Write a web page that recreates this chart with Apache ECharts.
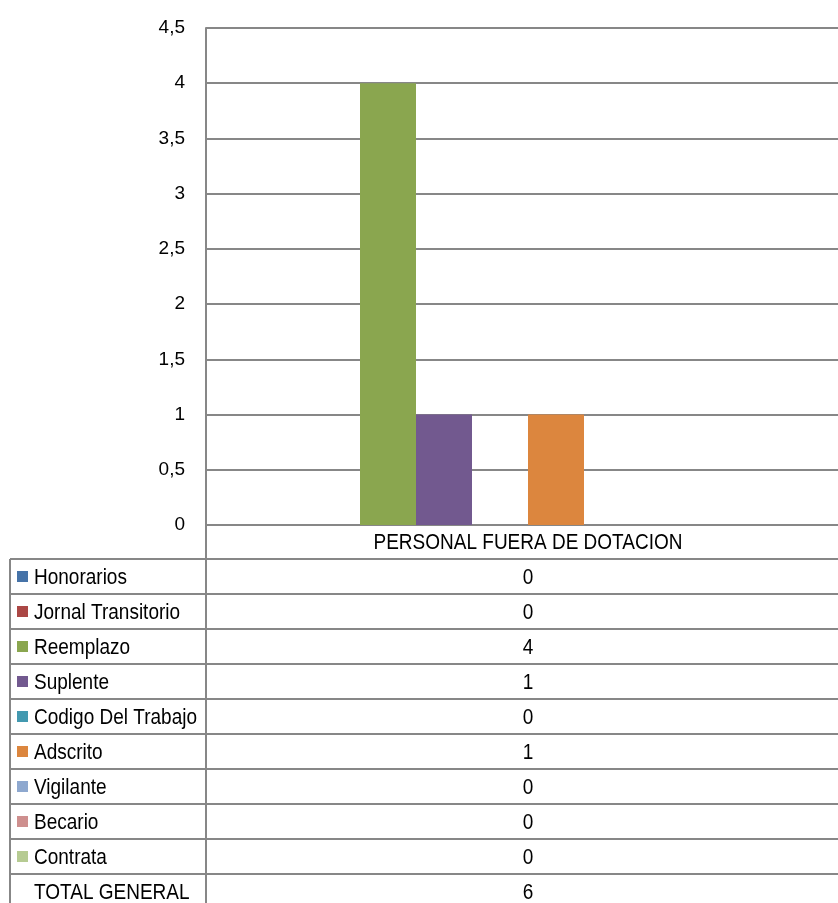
<!DOCTYPE html>
<html>
<head>
<meta charset="utf-8">
<script src="https://cdn.jsdelivr.net/npm/echarts@6/dist/echarts.min.js"></script>
<style>
  html, body { margin: 0; padding: 0; background: #fff; overflow: hidden; width: 838px; height: 903px; }
  #chart { width: 856px; height: 903px; }
</style>
</head>
<body>
<div id="chart"></div>
<script>
// ---- data ----
const categories = ['PERSONAL FUERA DE DOTACION'];
const seriesNames = ['Honorarios', 'Jornal Transitorio', 'Reemplazo', 'Suplente', 'Codigo Del Trabajo', 'Adscrito', 'Vigilante', 'Becario', 'Contrata'];
const seriesValues = [0, 0, 4, 1, 0, 1, 0, 0, 0];
const seriesColors = ['#4673A8', '#AB4745', '#8AA64F', '#72598F', '#4399B0', '#DC863E', '#8EA8CF', '#CE8F8E', '#B6CB92'];
const totalName = 'TOTAL GENERAL';
const totalValues = [6];
const yMin = 0, yMax = 4.5, yStep = 0.5;

// ---- styles / layout ----
const GRID_COLOR = '#878787';
const FONT = "'Liberation Sans', Arial, sans-serif";
const TSIZE = 19;
const TSCALE_Y = 1.12;
const gridLeft = 206, gridTop = 28, gridWidth = 644, gridHeight = 497;
const tableLeft = 10, tableTop = 559, rowH = 35, keySize = 11, labelX = 34, textDy = 1.5;

const chart = echarts.init(document.getElementById('chart'), null, { renderer: 'canvas' });

const series = seriesNames.map((name, i) => ({
  name: name,
  type: 'bar',
  data: [seriesValues[i]],
  barWidth: 56,
  barGap: '0%',
  itemStyle: { color: seriesColors[i] },
  emphasis: { disabled: true },
  animation: false
}));
series.push({
  name: totalName,
  type: 'bar',
  data: totalValues,
  barWidth: 56,
  barGap: '0%',
  itemStyle: { color: 'rgba(0,0,0,0)' },
  emphasis: { disabled: true },
  animation: false
});

chart.setOption({
  animation: false,
  textStyle: { fontFamily: FONT },
  grid: { left: gridLeft, top: gridTop, width: gridWidth, height: gridHeight, containLabel: false },
  xAxis: {
    type: 'category',
    data: categories,
    axisLine: { show: true, lineStyle: { color: GRID_COLOR, width: 2 } },
    axisTick: { show: false },
    axisLabel: { show: false },
    splitLine: { show: false }
  },
  yAxis: {
    type: 'value',
    min: yMin, max: yMax, interval: yStep,
    axisLine: { show: true, lineStyle: { color: GRID_COLOR, width: 2 } },
    axisTick: { show: false },
    axisLabel: {
      color: '#000', fontSize: 19, fontFamily: FONT, margin: 21,
      formatter: v => String(v).replace('.', ',')
    },
    splitLine: { show: true, lineStyle: { color: GRID_COLOR, width: 2 } }
  },
  series: series
});

// ---- data table below the plot ----
const cx = chart.convertToPixel({ xAxisIndex: 0 }, categories[0]);
const rightEdge = gridLeft + gridWidth;
const bottomEdge = 903 + 10;
const rows = seriesNames.map((n, i) => ({ name: n, value: seriesValues[i], color: seriesColors[i] }));
rows.push({ name: totalName, value: totalValues[0], color: null });

function txt(s, x, y, align) {
  return {
    type: 'text', x: x, y: y, scaleY: TSCALE_Y, silent: true,
    style: { text: s, fontSize: TSIZE, fontFamily: FONT, fill: '#000', textAlign: align, textVerticalAlign: 'middle' }
  };
}

const g = [];
const lineStyle = { stroke: GRID_COLOR, lineWidth: 2 };
g.push(txt(categories[0], cx, gridTop + gridHeight + 17 + textDy, 'center'));
g.push({ type: 'line', shape: { x1: tableLeft, y1: tableTop, x2: tableLeft, y2: bottomEdge }, style: lineStyle, silent: true });
g.push({ type: 'line', shape: { x1: gridLeft, y1: gridTop + gridHeight, x2: gridLeft, y2: bottomEdge }, style: lineStyle, silent: true });
g.push({ type: 'line', shape: { x1: rightEdge, y1: gridTop + gridHeight, x2: rightEdge, y2: bottomEdge }, style: lineStyle, silent: true });
rows.forEach((r, i) => {
  const y = tableTop + i * rowH;
  g.push({ type: 'line', shape: { x1: tableLeft, y1: y, x2: rightEdge, y2: y }, style: lineStyle, silent: true });
  const yc = y + rowH / 2;
  if (r.color) {
    g.push({ type: 'rect', shape: { x: 17, y: yc - keySize / 2, width: keySize, height: keySize }, style: { fill: r.color }, silent: true });
  }
  g.push(txt(r.name, labelX, yc + textDy, 'left'));
  g.push(txt(String(r.value), cx, yc + textDy, 'center'));
});
g.push({ type: 'line', shape: { x1: tableLeft, y1: tableTop + rows.length * rowH, x2: rightEdge, y2: tableTop + rows.length * rowH }, style: lineStyle, silent: true });

chart.setOption({ graphic: g });
</script>
</body>
</html>
